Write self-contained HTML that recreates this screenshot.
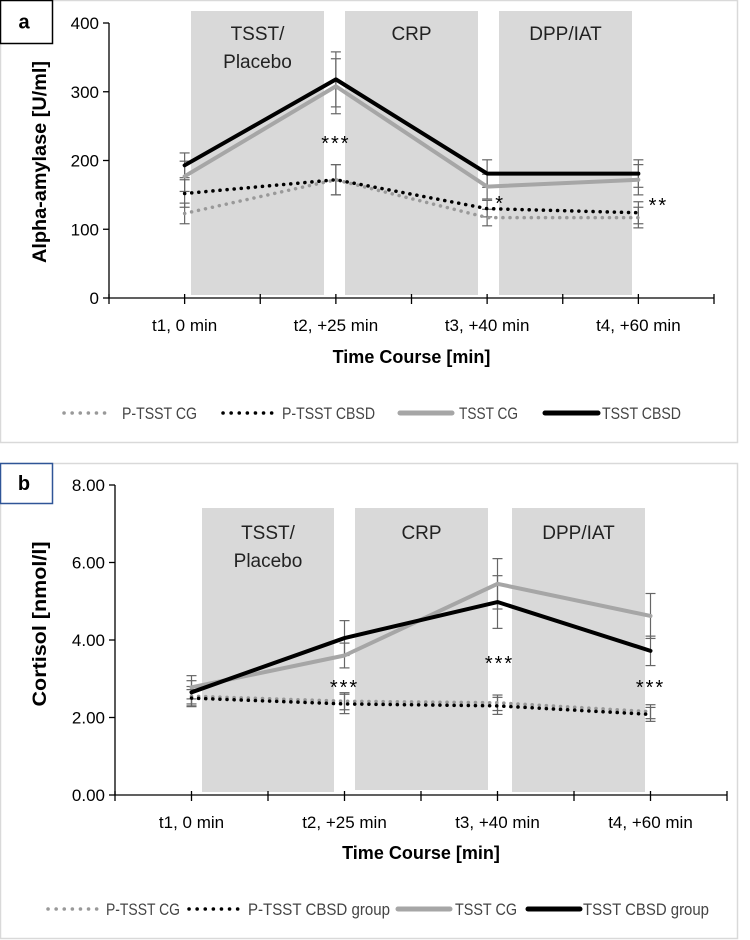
<!DOCTYPE html>
<html><head><meta charset="utf-8"><style>
body{margin:0;background:#fff;width:750px;height:940px;overflow:hidden}
svg{display:block}
text{font-family:"Liberation Sans Narrow","Liberation Sans",sans-serif}
</style></head><body>
<svg id="s" width="750" height="940" xmlns="http://www.w3.org/2000/svg"></svg>
<script>
const categories=["t1, 0 min","t2, +25 min","t3, +40 min","t4, +60 min"];
const phases=["TSST/|Placebo","CRP","DPP/IAT"];
// Panel a: alpha-amylase
const aTsstCbsd=[193,318,181,181];
const aTsstCg=[177,308,162,172];
const aPCbsd=[152,172,130,124];
const aPCg=[123,172,117,117];
const aErrTsstCbsd=[18,40,20,20];
const aErrTsstCg=[22,40,18,22];
const aErrPCbsd=[20,22,12,16];
const aErrPCg=[15,22,12,15];
const aTicks=[0,100,200,300,400];
const aTickLabels=["0","100","200","300","400"];
const aStars=["","***","*","**"];
// Panel b: cortisol
const bTsstCbsd=[2.65,4.05,4.98,3.72];
const bTsstCg=[2.78,3.6,5.45,4.62];
const bPCg=[2.55,2.42,2.38,2.15];
const bPCbsd=[2.5,2.35,2.3,2.08];
const bErrTsstCbsd=[0.3,0.45,0.68,0.38];
const bErrTsstCg=[0.3,0.32,0.65,0.58];
const bErrPCg=[0.25,0.22,0.2,0.18];
const bErrPCbsd=[0.22,0.25,0.22,0.18];
const bTicks=[0,2,4,6,8];
const bTickLabels=["0.00","2.00","4.00","6.00","8.00"];
const bStars=["","***","***","***"];

const S=document.getElementById('s');
const NS="http://www.w3.org/2000/svg";
function el(tag,attrs,parent){const e=document.createElementNS(NS,tag);for(const k in attrs)e.setAttribute(k,attrs[k]);(parent||S).appendChild(e);return e;}
function txt(str,x,y,attrs){const t=el('text',Object.assign({x:x,y:y},attrs||{}));t.textContent=str;return t;}

function panel(cfg){
  const g=el('g',{});
  
  
  const fr=el('rect',{x:0.5,y:cfg.boxTop+0.5,width:737,height:cfg.boxH,fill:'#fff',stroke:'#d9d9d9','stroke-width':1.5},g);
  
  const lb=el('rect',{x:0.5,y:cfg.boxTop+0.5,width:52,height:cfg.lblH,fill:'#fff',stroke:cfg.lblStroke,'stroke-width':1.5},g);
  
  const lt=txt(cfg.label,24,cfg.boxTop+cfg.lblH/2+7,{'font-size':20,'font-weight':'bold','text-anchor':'middle'});
  g.appendChild(lt);
  const x0=cfg.x0,x1=cfg.x1,cw=(x1-x0)/4;
  const X=i=>x0+cw*(i+0.5);
  const Y=v=>cfg.y0-(v-cfg.vmin)/(cfg.vmax-cfg.vmin)*(cfg.y0-cfg.yTop);
  cfg.shades.forEach((s,i)=>{
    const r=el('rect',{x:s[0],y:cfg.shTop,width:s[1]-s[0],height:s[2]-cfg.shTop,fill:'#d9d9d9'},g);
    
    const parts=phases[i].split('|');
    parts.forEach((p,j)=>{const t=txt(p,(s[0]+s[1])/2,cfg.phY+j*28,{'font-size':19,'text-anchor':'middle',fill:'#222'});g.appendChild(t);
      });
  });
  el('line',{x1:x0,y1:cfg.yTop,x2:x0,y2:cfg.y0,stroke:'#000','stroke-width':1.3},g);
  cfg.ticks.forEach((v,i)=>{
    el('line',{x1:x0-6,y1:Y(v),x2:x0,y2:Y(v),stroke:'#000','stroke-width':1.3},g);
    const t=txt(cfg.tickLabels[i],x0-10,Y(v)+6,{'font-size':17,'text-anchor':'end'});g.appendChild(t);
    
  });
  el('line',{x1:x0,y1:cfg.y0,x2:x1,y2:cfg.y0,stroke:'#000','stroke-width':1.3},g);
  for(let i=0;i<=8;i++){const xx=x0+cw/2*i;el('line',{x1:xx,y1:cfg.y0-4,x2:xx,y2:cfg.y0+6,stroke:'#000','stroke-width':1.3},g);}
  categories.forEach((c,i)=>{const t=txt(c,X(i),cfg.catY,{'font-size':17,'text-anchor':'middle'});g.appendChild(t);
    });
  const xt=txt('Time Course [min]',(x0+x1)/2,cfg.titleY,{'font-size':18,'font-weight':'bold','text-anchor':'middle'});g.appendChild(xt);
  
  const yc=cfg.ytC;
  const yt=txt(cfg.ytitle,0,0,{'font-size':19,'font-weight':'bold','text-anchor':'middle',textLength:cfg.ytLen,lengthAdjust:'spacingAndGlyphs',transform:`translate(${cfg.ytX},${yc}) rotate(-90)`,'font-family':'"Liberation Sans",sans-serif'});g.appendChild(yt);
  
  cfg.series.forEach(s=>{
    s.err.forEach((e,i)=>{
      const xx=X(i);
      el('line',{x1:xx,y1:Y(s.vals[i]-e),x2:xx,y2:Y(s.vals[i]+e),stroke:'#666','stroke-width':1.2},g);
      [s.vals[i]-e,s.vals[i]+e].forEach(v=>el('line',{x1:xx-5,y1:Y(v),x2:xx+5,y2:Y(v),stroke:'#666','stroke-width':1.2},g));
    });
  });
  cfg.series.forEach(s=>{
    const p=el('polyline',{points:s.vals.map((v,i)=>X(i)+','+Y(v)).join(' '),fill:'none',stroke:s.color,'stroke-width':s.dot?3.5:4,'stroke-linecap':'round','stroke-linejoin':'round','stroke-dasharray':s.dot?'0.1 7':'none'},g);
    
  });
  cfg.stars.forEach((s,i)=>{if(!s)return;const t=txt(s,X(i)+cfg.starDx[i],cfg.starY[i],{'font-size':20,'letter-spacing':2,'text-anchor':'middle'});g.appendChild(t);
    });
  cfg.legend.forEach(l=>{
    const lg=el('g',{},g);
    
    el('line',{x1:l.a,y1:cfg.legY,x2:l.b,y2:cfg.legY,stroke:l.color,'stroke-width':l.dot?3.5:5,'stroke-linecap':'round','stroke-dasharray':l.dot?'0.1 8':'none'},lg);
    const t=txt(l.t,l.tx,cfg.legY+6,{'font-size':17,fill:'#444',textLength:l.w,lengthAdjust:'spacingAndGlyphs'});lg.appendChild(t);
  });
}

panel({name:'panel-a-alpha-amylase',boxTop:0,boxH:442,lblH:43,lblStroke:'#000',label:'a',
  x0:109,x1:714,y0:298,yTop:23,vmin:0,vmax:400,ticks:aTicks,tickLabels:aTickLabels,
  shades:[[191,324,295],[345,478,295],[499,632,295]],shTop:11,phY:40,
  catY:331,titleY:363,ytitle:'Alpha-amylase [U/ml]',ytX:46,ytC:162,ytLen:202,
  series:[
    {key:'p-tsst-cg',vals:aPCg,err:aErrPCg,color:'#999',dot:true},
    {key:'p-tsst-cbsd',vals:aPCbsd,err:aErrPCbsd,color:'#000',dot:true},
    {key:'tsst-cg',vals:aTsstCg,err:aErrTsstCg,color:'#a6a6a6'},
    {key:'tsst-cbsd',vals:aTsstCbsd,err:aErrTsstCbsd,color:'#000'}],
  stars:aStars,starDx:[0,0,13,20],starY:[0,150,210,212],
  legY:413,legend:[
    {a:64,b:110,tx:122,w:75,t:'P-TSST CG',color:'#999',dot:true},
    {a:223,b:273,tx:282,w:93,t:'P-TSST CBSD',color:'#000',dot:true},
    {a:400,b:452,tx:459,w:59,t:'TSST CG',color:'#a6a6a6'},
    {a:545,b:598,tx:602,w:79,t:'TSST CBSD',color:'#000'}]});

panel({name:'panel-b-cortisol',boxTop:463,boxH:475,lblH:40,lblStroke:'#2f5597',label:'b',
  x0:115,x1:727,y0:795,yTop:485,vmin:0,vmax:8,ticks:bTicks,tickLabels:bTickLabels,
  shades:[[202,334,792],[355,488,790],[512,645,792]],shTop:508,phY:539,
  catY:828,titleY:859,ytitle:'Cortisol [nmol/l]',ytX:46,ytC:624,ytLen:165,
  series:[
    {key:'p-tsst-cg',vals:bPCg,err:bErrPCg,color:'#999',dot:true},
    {key:'p-tsst-cbsd-group',vals:bPCbsd,err:bErrPCbsd,color:'#000',dot:true},
    {key:'tsst-cg',vals:bTsstCg,err:bErrTsstCg,color:'#a6a6a6'},
    {key:'tsst-cbsd-group',vals:bTsstCbsd,err:bErrTsstCbsd,color:'#000'}],
  stars:bStars,starDx:[0,0,2,0],starY:[0,694,670,694],
  legY:909,legend:[
    {a:48,b:100,tx:106,w:74,t:'P-TSST CG',color:'#999',dot:true},
    {a:189,b:239,tx:248,w:142,t:'P-TSST CBSD group',color:'#000',dot:true},
    {a:398,b:450,tx:455,w:62,t:'TSST CG',color:'#a6a6a6'},
    {a:528,b:580,tx:583,w:126,t:'TSST CBSD group',color:'#000'}]});
</script>
</body></html>
